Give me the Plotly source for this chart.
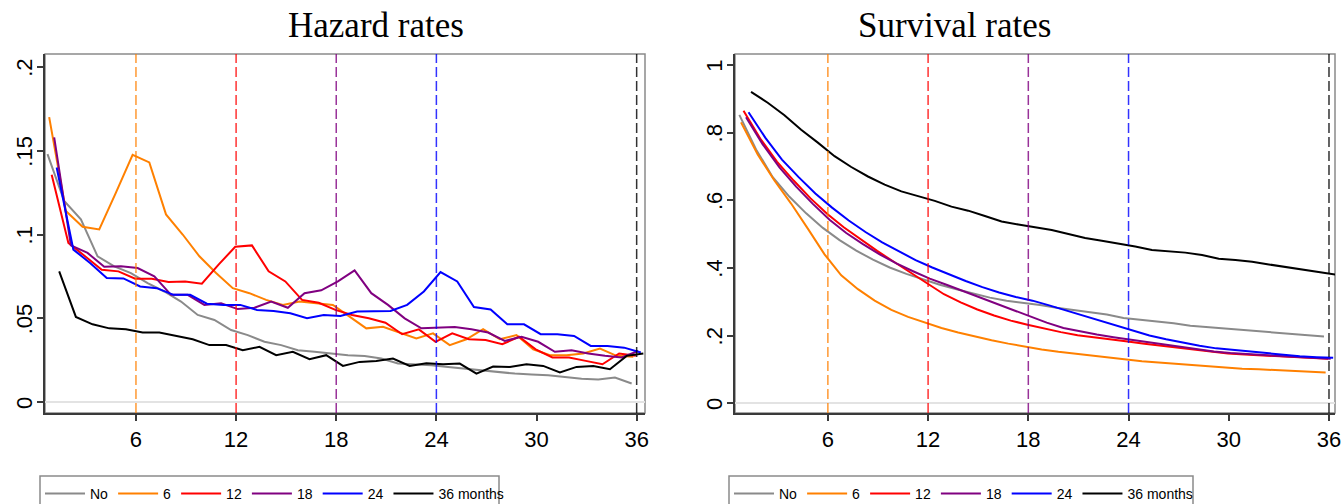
import plotly.graph_objects as go

# ---- data -------------------------------------------------------------
months = list(range(1, 37))
series_names = ["No", "6", "12", "18", "24", "36 months"]
series_colors = ["#8a8a8a", "#ff8000", "#ff0000", "#800080", "#0000ff", "#000000"]
# small horizontal offsets so overlapping series stay distinguishable
month_shift = [-0.3, -0.2, -0.05, 0.1, 0.25, 0.4]

cutoffs = [6, 12, 18, 24, 36]
cutoff_colors = ["#ff8000", "#ff0000", "#800080", "#0000ff", "#000000"]

hazard_no = [0.148, 0.120, 0.109, 0.087, 0.081, 0.077, 0.071, 0.066, 0.060, 0.052,
             0.049, 0.043, 0.040, 0.036, 0.034, 0.031, 0.030, 0.029, 0.028, 0.0275,
             0.026, 0.023, 0.0225, 0.022, 0.021, 0.020, 0.019, 0.018, 0.017, 0.0165,
             0.016, 0.015, 0.014, 0.0135, 0.0147, 0.0111]
hazard_6 = [0.170, 0.114, 0.1046, 0.103, 0.125, 0.1476, 0.143, 0.112, 0.100, 0.087,
            0.077, 0.068, 0.065, 0.061, 0.058, 0.060, 0.059, 0.058, 0.051, 0.044,
            0.045, 0.0415, 0.038, 0.041, 0.034, 0.0375, 0.0435, 0.0375, 0.040, 0.0315,
            0.028, 0.028, 0.029, 0.032, 0.0276, 0.027]
hazard_12 = [0.1357, 0.095, 0.087, 0.079, 0.078, 0.0736, 0.0736, 0.0716, 0.072, 0.0706,
             0.082, 0.0927, 0.0935, 0.078, 0.072, 0.061, 0.0593, 0.055, 0.052, 0.050,
             0.0474, 0.0405, 0.0434, 0.036, 0.041, 0.0375, 0.037, 0.0345, 0.039, 0.0315,
             0.0266, 0.0266, 0.0246, 0.0226, 0.029, 0.0276]
hazard_18 = [0.158, 0.0935, 0.089, 0.0807, 0.081, 0.080, 0.075, 0.064, 0.064, 0.058,
             0.059, 0.0555, 0.0563, 0.060, 0.0563, 0.065, 0.0667, 0.072, 0.0786, 0.065,
             0.058, 0.050, 0.044, 0.0444, 0.0448, 0.0435, 0.0415, 0.0365, 0.039, 0.036,
             0.030, 0.031, 0.029, 0.0276, 0.0266, 0.0305]
hazard_24 = [0.140, 0.091, 0.083, 0.074, 0.0738, 0.069, 0.068, 0.064, 0.064, 0.0587,
             0.058, 0.058, 0.055, 0.0544, 0.053, 0.050, 0.052, 0.0514, 0.054, 0.0544,
             0.0544, 0.058, 0.066, 0.0776, 0.072, 0.0567, 0.0553, 0.0464, 0.0464, 0.0405,
             0.0405, 0.0395, 0.0335, 0.0335, 0.0325, 0.0296]
hazard_36 = [0.078, 0.0508, 0.0464, 0.044, 0.0435, 0.0415, 0.0415, 0.0395, 0.0375, 0.034,
             0.034, 0.031, 0.033, 0.028, 0.030, 0.0256, 0.028, 0.0216, 0.024, 0.0246,
             0.026, 0.0216, 0.0232, 0.0226, 0.023, 0.017, 0.0212, 0.021, 0.0226, 0.0216,
             0.0177, 0.021, 0.0216, 0.0196, 0.0276, 0.029]

survival_no = [0.852, 0.750, 0.668, 0.610, 0.561, 0.518, 0.482, 0.451, 0.424, 0.401,
               0.382, 0.365, 0.350, 0.337, 0.324, 0.312, 0.303, 0.297, 0.290, 0.282,
               0.275, 0.268, 0.262, 0.252, 0.247, 0.242, 0.236, 0.229, 0.225, 0.220,
               0.216, 0.212, 0.208, 0.204, 0.200, 0.197]
survival_6 = [0.830, 0.735, 0.658, 0.590, 0.516, 0.440, 0.378, 0.337, 0.303, 0.276,
              0.255, 0.238, 0.222, 0.209, 0.197, 0.186, 0.176, 0.167, 0.159, 0.152,
              0.146, 0.140, 0.135, 0.130, 0.124, 0.120, 0.116, 0.112, 0.108, 0.105,
              0.102, 0.100, 0.098, 0.096, 0.093, 0.091]
survival_12 = [0.864, 0.782, 0.714, 0.658, 0.606, 0.560, 0.520, 0.484, 0.450, 0.418,
               0.386, 0.354, 0.322, 0.298, 0.277, 0.259, 0.244, 0.232, 0.220, 0.210,
               0.201, 0.194, 0.188, 0.182, 0.176, 0.170, 0.164, 0.158, 0.152, 0.147,
               0.144, 0.141, 0.139, 0.137, 0.134, 0.131]
survival_18 = [0.845, 0.765, 0.697, 0.640, 0.589, 0.542, 0.503, 0.470, 0.440, 0.413,
               0.390, 0.368, 0.350, 0.331, 0.313, 0.295, 0.275, 0.257, 0.238, 0.222,
               0.212, 0.203, 0.195, 0.188, 0.180, 0.173, 0.167, 0.160, 0.153, 0.148,
               0.145, 0.142, 0.139, 0.137, 0.134, 0.131]
survival_24 = [0.860, 0.785, 0.720, 0.668, 0.620, 0.578, 0.540, 0.506, 0.475, 0.448,
               0.423, 0.401, 0.380, 0.361, 0.343, 0.327, 0.314, 0.303, 0.289, 0.274,
               0.259, 0.245, 0.230, 0.215, 0.200, 0.189, 0.179, 0.170, 0.162, 0.157,
               0.152, 0.147, 0.143, 0.139, 0.136, 0.134]
survival_36 = [0.920, 0.888, 0.851, 0.808, 0.770, 0.730, 0.698, 0.670, 0.646, 0.626,
               0.612, 0.598, 0.581, 0.569, 0.553, 0.537, 0.528, 0.519, 0.512, 0.500,
               0.488, 0.480, 0.472, 0.463, 0.453, 0.450, 0.445, 0.438, 0.427, 0.423,
               0.418, 0.410, 0.403, 0.396, 0.389, 0.380]

hazards = [hazard_no, hazard_6, hazard_12, hazard_18, hazard_24, hazard_36]
survivals = [survival_no, survival_6, survival_12, survival_18, survival_24, survival_36]

hazard_ticks = [0, 0.05, 0.1, 0.15, 0.2]
hazard_ticktext = ["0", ".05", ".1", ".15", ".2"]
survival_ticks = [0, 0.2, 0.4, 0.6, 0.8, 1]
survival_ticktext = ["0", ".2", ".4", ".6", ".8", "1"]
month_ticks = [6, 12, 18, 24, 30, 36]

# ---- figure -----------------------------------------------------------
W, H = 1341, 504
fig = go.Figure()

for name, color, shift, haz, surv in zip(series_names, series_colors, month_shift,
                                         hazards, survivals):
    xs = [m + shift for m in months]
    fig.add_trace(go.Scatter(x=xs, y=haz, mode="lines", name=name,
                             line=dict(color=color, width=2),
                             xaxis="x", yaxis="y", legend="legend"))
    fig.add_trace(go.Scatter(x=xs, y=surv, mode="lines", name=name,
                             line=dict(color=color, width=2),
                             xaxis="x2", yaxis="y2", legend="legend2"))

tick_font = dict(family="Liberation Sans, Arial, sans-serif", size=22, color="#000")
axis_common = dict(showgrid=False, showline=True, linecolor="#3a3a3a", linewidth=2,
                   ticks="outside", ticklen=6, tickwidth=1.5, tickcolor="#3a3a3a",
                   tickfont=tick_font, ticklabeloverflow="allow")
yaxis_common = dict(tickangle=-90, ticklabelstandoff=-4, ticklabelshift=4,
                    zeroline=True, zerolinecolor="#e3e3e3", zerolinewidth=1.5,
                    **axis_common)
legend_common = dict(orientation="h", xanchor="left", yanchor="middle",
                     y=(H - 494) / H, borderwidth=0, bgcolor="rgba(0,0,0,0)",
                     font=dict(family="Liberation Sans, Arial, sans-serif", size=14,
                               color="#000"),
                     itemwidth=40)

ydom = [(H - 413) / H, (H - 54) / H]
fig.update_layout(
    width=W, height=H,
    margin=dict(l=0, r=0, t=0, b=0, autoexpand=False),
    paper_bgcolor="white", plot_bgcolor="white",
    xaxis=dict(domain=[45 / W, 645 / W], range=[0.55, 36.5], anchor="y",
               tickvals=month_ticks, zeroline=False, **axis_common),
    yaxis=dict(domain=ydom, range=[-0.0065, 0.2077], anchor="x",
               tickvals=hazard_ticks, ticktext=hazard_ticktext, **yaxis_common),
    xaxis2=dict(domain=[735 / W, 1335 / W], range=[0.44, 36.36], anchor="y2",
                tickvals=month_ticks, zeroline=False, **axis_common),
    yaxis2=dict(domain=ydom, range=[-0.029, 1.032], anchor="x2",
                tickvals=survival_ticks, ticktext=survival_ticktext, **yaxis_common),
    legend=dict(x=40 / W, **legend_common),
    legend2=dict(x=729 / W, **legend_common),
)

# plot-region outline (top/right edges) and vertical reference lines
for xr, yr in (("x", "y"), ("x2", "y2")):
    fig.add_shape(type="rect", xref=f"{xr} domain", yref=f"{yr} domain",
                  x0=0, x1=1, y0=0, y1=1, line=dict(color="#8a8a8a", width=1.5),
                  layer="below")
    for c, col in zip(cutoffs, cutoff_colors):
        fig.add_shape(type="line", xref=xr, yref=f"{yr} domain", x0=c, x1=c,
                      y0=0, y1=1, line=dict(color=col, width=1.5, dash="10px,4px"),
                      opacity=0.8)

# legend frames, open at the bottom edge of the page
for x0, x1 in ((40, 499), (729, 1193)):
    fig.add_shape(type="rect", xref="paper", yref="paper", x0=x0 / W, x1=x1 / W,
                  y0=-0.1, y1=(H - 476) / H, line=dict(color="#8a8a8a", width=1.5),
                  fillcolor="white", layer="below")

title_font = dict(family="Liberation Serif, Times New Roman, serif", size=35,
                  color="#000")
for text, xc in (("Hazard rates", 376), ("Survival rates", 955)):
    fig.add_annotation(text=text, x=xc / W, y=(H - 25) / H, xref="paper",
                       yref="paper", xanchor="center", yanchor="middle",
                       showarrow=False, font=title_font)

fig.write_html("out.html")
